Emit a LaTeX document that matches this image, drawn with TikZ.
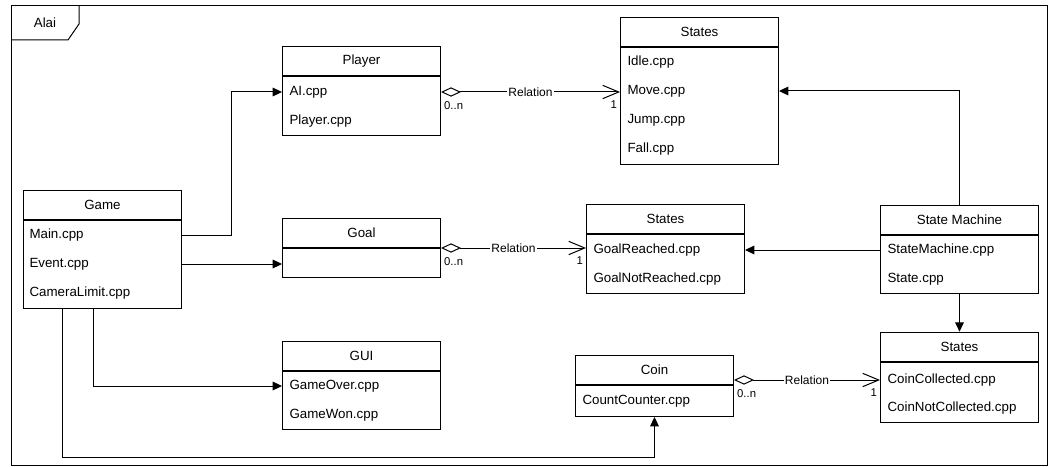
\documentclass[tikz,border=0pt]{standalone}
\usepackage{fontspec}
\setmainfont{Liberation Sans}
\usetikzlibrary{arrows.meta}

\begin{document}
\begin{tikzpicture}[x=0.75pt,y=-0.75pt,line width=0.75pt,>={Triangle[length=7pt,width=6.5pt]},font=\fontsize{10}{12}\selectfont]
    \tikzstyle{classhead}=[draw, anchor=south west, minimum width=118.5pt, minimum height=22pt, inner sep=0pt]
    \tikzstyle{classbody}=[draw, anchor=north west, minimum width=118.5pt, inner sep=0pt]
    \tikzstyle{member}=[anchor=west, inner sep=0pt]
    \tikzstyle{link}=[->]
    \tikzstyle{relation}=[{Diamond[open,length=15pt,width=7pt]}-{Straight Barb[length=12pt,width=10pt]}]
    \tikzstyle{relname}=[fill=white, inner sep=1pt, font=\fontsize{9}{10}\selectfont]
    \tikzstyle{mult}=[inner sep=2pt, yshift=-4.5pt, font=\fontsize{8.5}{10}\selectfont]

    \useasboundingbox (0,0) rectangle (1056,467);

    % frame
    \draw (11,6) rectangle (1047,465.5);
    \draw (11,40) -- (68,40) -- (79,24) -- (79,6);
    \node (framename) at (45,23) {Alai};

    % Game
    \node[classhead] (gameh) at (23,220) {Game};
    \node[classbody, minimum height=66pt] (gameb) at (23,220) {};
    \node[member] (gamemain) at (29,235) {Main.cpp};
    \node[member] (gameevent) at (29,264) {Event.cpp};
    \node[member] (gamecamera) at (29,293) {CameraLimit.cpp};

    % Player
    \node[classhead] (playerh) at (282,76) {Player};
    \node[classbody, minimum height=44.25pt] (playerb) at (282,76) {};
    \node[member] (playerai) at (289,92) {AI.cpp};
    \node[member] (playerplayer) at (289,121) {Player.cpp};

    % Goal
    \node[classhead] (goalh) at (282,248) {Goal};
    \node[classbody, minimum height=21.75pt] (goalb) at (282,248) {};

    % GUI
    \node[classhead] (guih) at (282,371) {GUI};
    \node[classbody, minimum height=43.5pt] (guib) at (282,371) {};
    \node[member] (guiover) at (289,386) {GameOver.cpp};
    \node[member] (guiwon) at (289,415) {GameWon.cpp};

    % Coin
    \node[classhead] (coinh) at (575,385) {Coin};
    \node[classbody, minimum height=23.25pt] (coinb) at (575,385) {};
    \node[member] (coincounter) at (582,401) {CountCounter.cpp};

    % player states
    \node[classhead] (statesah) at (620,47) {States};
    \node[classbody, minimum height=87.75pt] (statesab) at (620,47) {};
    \node[member] (statesaidle) at (627,62) {Idle.cpp};
    \node[member] (statesamove) at (627,91) {Move.cpp};
    \node[member] (statesajump) at (627,120) {Jump.cpp};
    \node[member] (statesafall) at (627,149) {Fall.cpp};

    % goal states
    \node[classhead] (statesbh) at (586,234) {States};
    \node[classbody, minimum height=44.25pt] (statesbb) at (586,234) {};
    \node[member] (statesbreached) at (593,250) {GoalReached.cpp};
    \node[member] (statesbnot) at (593,279) {GoalNotReached.cpp};

    % State Machine
    \node[classhead] (smh) at (880,235) {State Machine};
    \node[classbody, minimum height=43.5pt] (smb) at (880,235) {};
    \node[member] (smmain) at (887,250) {StateMachine.cpp};
    \node[member] (smstate) at (887,279) {State.cpp};

    % coin states
    \node[classhead] (statesch) at (880,362) {States};
    \node[classbody, minimum height=45pt] (statescb) at (880,362) {};
    \node[member] (statesccollected) at (887,380) {CoinCollected.cpp};
    \node[member] (statescnot) at (887,408) {CoinNotCollected.cpp};

    \coordinate (playerbend) at (231,92);
    \coordinate (guibend) at (93,386);
    \coordinate (coinbend) at (62,457);

    \draw[link] (gameb.east |- gamemain) -| (playerbend) -- (playerb.west |- playerai);
    \draw[link] (gameb.east |- gameevent) -- (goalb.west |- gameevent);
    \draw[link] (gameb.south -| guibend) -- (guibend) -- (guib.west |- guiover);
    \draw[link] (gameb.south -| coinbend) -- (coinbend) -| (coinb.south);

    \draw[link] (smh.north) |- (statesab.east |- statesamove);
    \draw[link] (smb.west |- smmain) -- (statesbb.east |- smmain);
    \draw[link] (smb.south) -- (statesch.north);

    \draw[relation] (playerb.east |- playerai) -- node[relname] {Relation}
        node[mult, pos=0, below right] {0..n} node[mult, pos=1, below left] {1} (statesab.west |- playerai);
    \draw[relation] (goalb.north east) -- node[relname] {Relation}
        node[mult, pos=0, below right] {0..n} node[mult, pos=1, below left] {1} (statesbb.west |- goalb.north);
    \draw[relation] (coinh.east |- statesccollected) -- node[relname] {Relation}
        node[mult, pos=0, below right] {0..n} node[mult, pos=1, below left] {1} (statescb.west |- statesccollected);
\end{tikzpicture}
\end{document}
